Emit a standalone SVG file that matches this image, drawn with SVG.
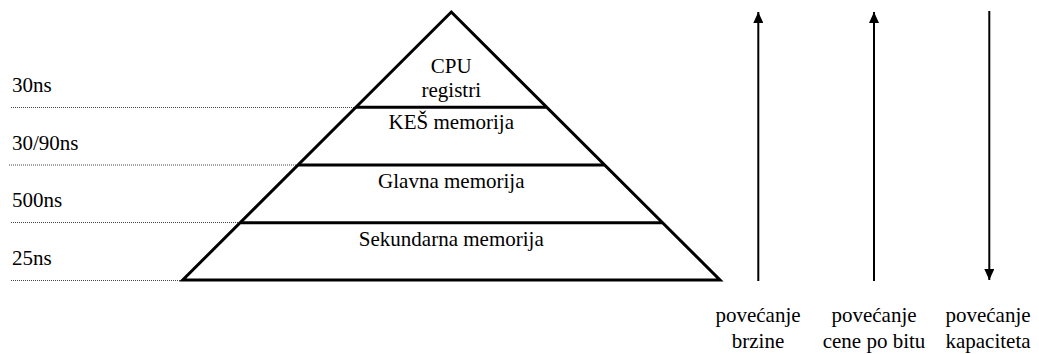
<svg xmlns="http://www.w3.org/2000/svg" width="1039" height="354" viewBox="0 0 1039 354">
  <defs>
    <marker id="head" viewBox="0 0 11 10" refX="11" refY="5" markerWidth="11" markerHeight="10" markerUnits="userSpaceOnUse" orient="auto">
      <path d="M0,0 L11,5 L0,10 Z" fill="#000"/>
    </marker>
  </defs>

  <!-- access-time guides and labels -->
  <g id="times" font-family="Liberation Serif, Tinos, Times New Roman, serif" font-size="21">
    <g stroke="#444" stroke-width="1" stroke-dasharray="1 1">
      <line x1="11" y1="107.5" x2="356" y2="107.5"/>
      <line x1="9" y1="165" x2="298" y2="165"/>
      <line x1="11" y1="222.5" x2="240" y2="222.5"/>
      <line x1="11" y1="280.5" x2="183" y2="280.5"/>
    </g>
    <text x="12" y="92">30ns</text>
    <text x="12" y="150">30/90ns</text>
    <text x="12" y="207">500ns</text>
    <text x="12" y="265">25ns</text>
  </g>

  <!-- memory hierarchy pyramid -->
  <g id="pyramid">
    <path d="M451.3,12 L720,280 L182.7,280 Z" fill="none" stroke="#000" stroke-width="3"/>
  </g>
  <g id="registers" font-family="Liberation Serif, Tinos, Times New Roman, serif" font-size="21" text-anchor="middle">
    <text x="451.3" y="73">CPU</text>
    <text x="451.3" y="97">registri</text>
  </g>
  <g id="cache" font-family="Liberation Serif, Tinos, Times New Roman, serif" font-size="21" text-anchor="middle">
    <line x1="356" y1="107.3" x2="546.6" y2="107.3" stroke="#000" stroke-width="3"/>
    <text x="451.3" y="129">KE&#352; memorija</text>
  </g>
  <g id="main-memory" font-family="Liberation Serif, Tinos, Times New Roman, serif" font-size="21" text-anchor="middle">
    <line x1="298.3" y1="165" x2="604.3" y2="165" stroke="#000" stroke-width="3"/>
    <text x="451.3" y="188">Glavna memorija</text>
  </g>
  <g id="secondary-memory" font-family="Liberation Serif, Tinos, Times New Roman, serif" font-size="21" text-anchor="middle">
    <line x1="240.7" y1="222.7" x2="662" y2="222.7" stroke="#000" stroke-width="3"/>
    <text x="451.3" y="246">Sekundarna memorija</text>
  </g>

  <!-- trend arrows -->
  <g id="connectors" stroke="#000" stroke-width="2">
    <line x1="758.3" y1="281" x2="758.3" y2="12" marker-end="url(#head)"/>
    <line x1="874" y1="281" x2="874" y2="12" marker-end="url(#head)"/>
    <line x1="989.3" y1="11" x2="989.3" y2="280" marker-end="url(#head)"/>
  </g>

  <g id="speed" font-family="Liberation Serif, Tinos, Times New Roman, serif" font-size="21" text-anchor="middle">
    <text x="758" y="322">pove&#263;anje</text>
    <text x="758" y="348">brzine</text>
  </g>
  <g id="cost" font-family="Liberation Serif, Tinos, Times New Roman, serif" font-size="21" text-anchor="middle">
    <text x="874" y="322">pove&#263;anje</text>
    <text x="874" y="348">cene po bitu</text>
  </g>
  <g id="capacity" font-family="Liberation Serif, Tinos, Times New Roman, serif" font-size="21" text-anchor="middle">
    <text x="988" y="322">pove&#263;anje</text>
    <text x="988" y="348">kapaciteta</text>
  </g>
</svg>
